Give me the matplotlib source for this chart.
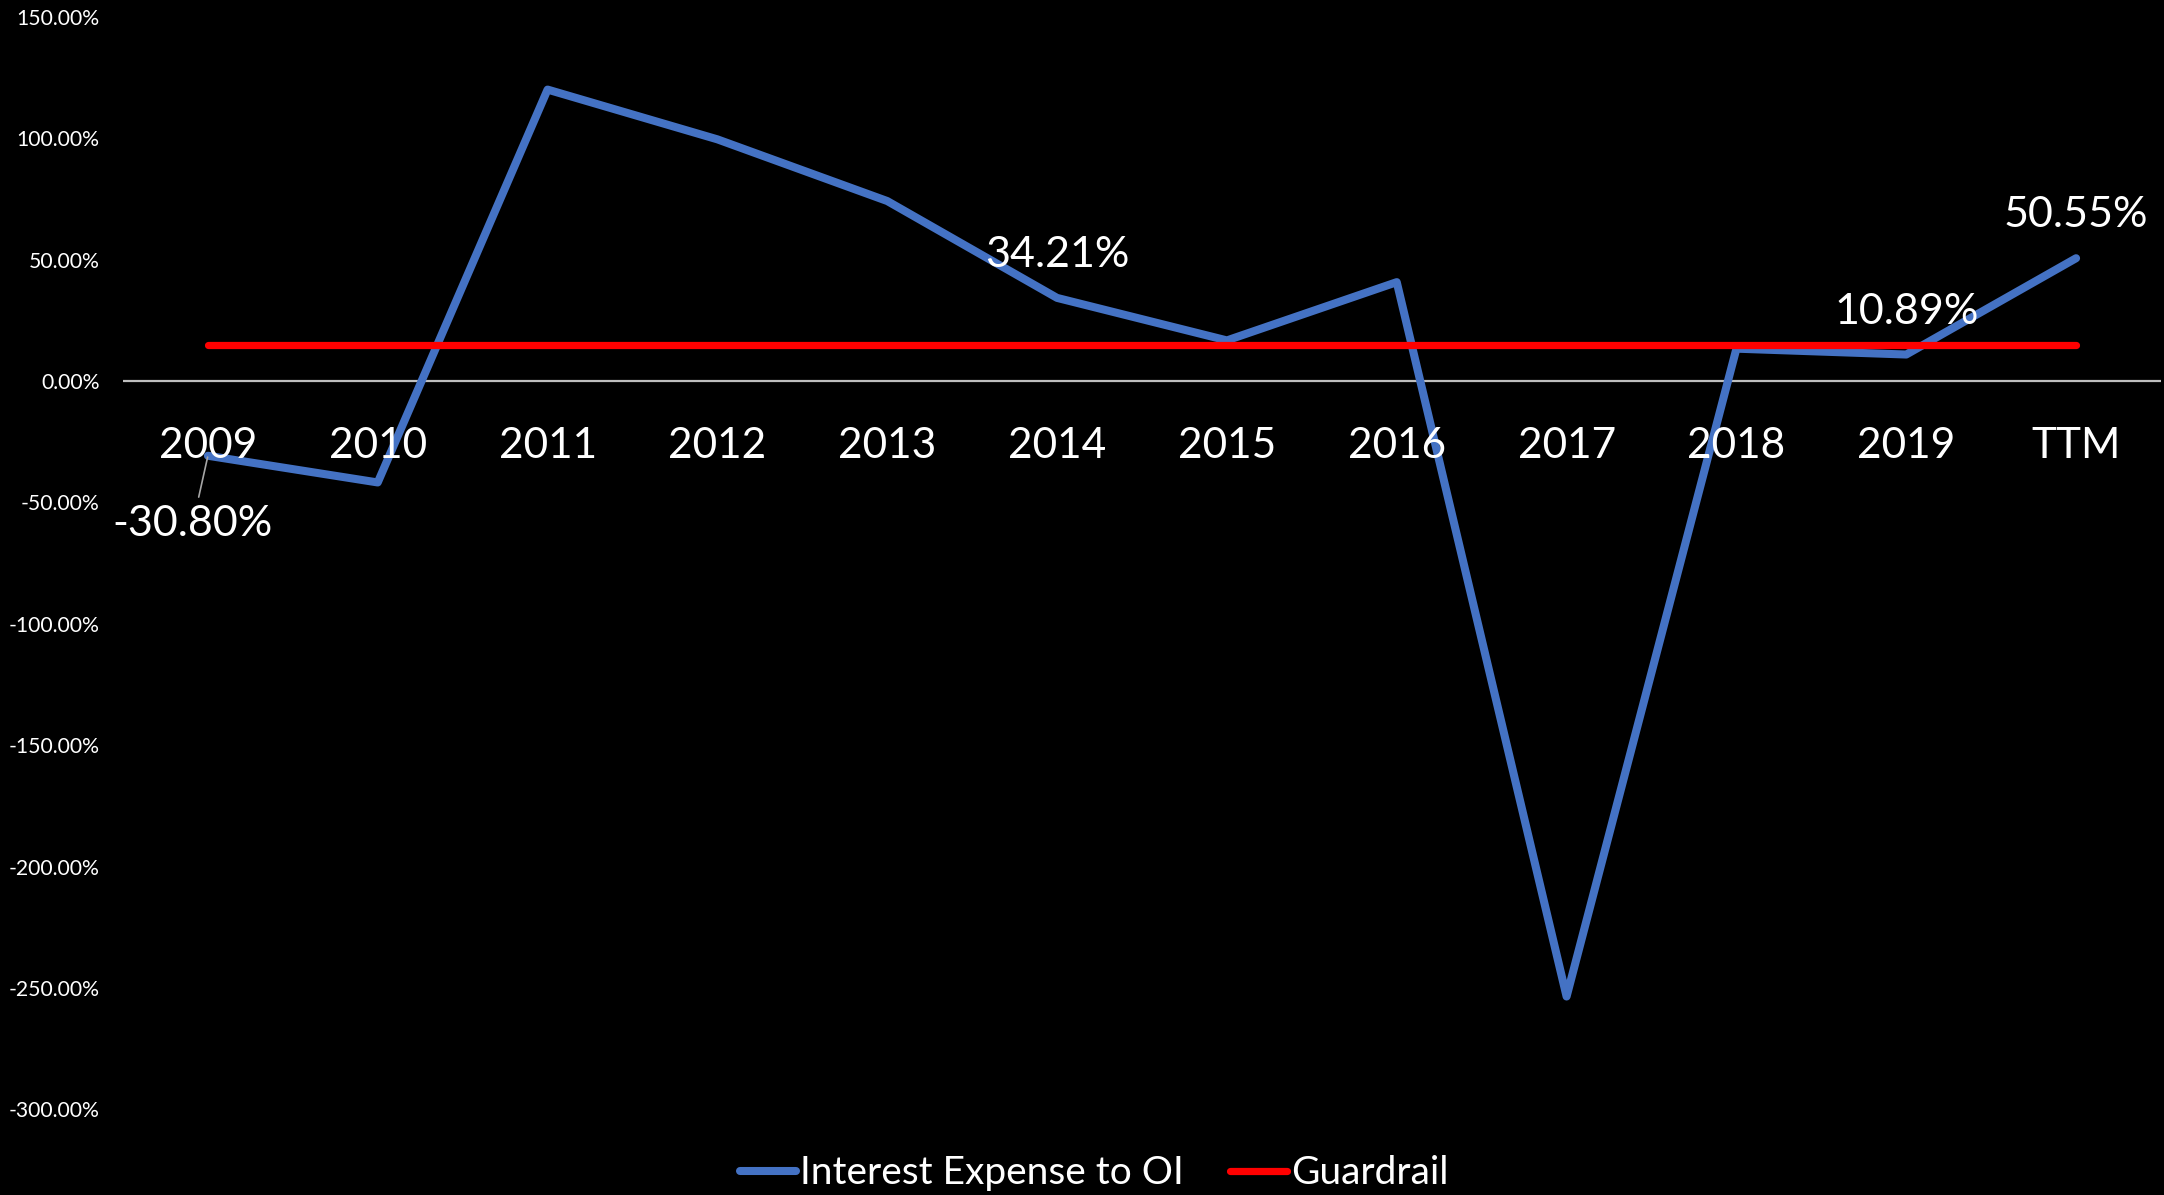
import numpy as np
import matplotlib
matplotlib.use("Agg")
from matplotlib import pyplot as plt

plt.rcParams['font.family'] = ['Lato', 'DejaVu Sans']

# interest expense as a share of operating income, in percent
periods = ['2009', '2010', '2011', '2012', '2013', '2014', '2015', '2016',
           '2017', '2018', '2019', 'TTM']
interest_to_oi = [-30.80, -41.8, 120.0, 99.5, 74.1, 34.21, 16.7, 40.7,
                  -253.5, 13.3, 10.89, 50.55]
guardrail = [15.0] * len(periods)
labelled = {0: 'below', 5: 'above', 10: 'above', 11: 'above'}
yticks = np.arange(-300, 151, 50)

blue = '#4472C4'
red = '#FF0000'

fig = plt.figure(figsize=(21.64, 11.95), dpi=100, facecolor='black')
ax = fig.add_axes([123/2164, 0.0716, (2161-123)/2164, 0.986-0.0716])
ax.set_facecolor('black')

x = np.arange(len(periods))
ax.plot(x, interest_to_oi, color=blue, lw=5.8, solid_capstyle='round',
        solid_joinstyle='round', label='Interest Expense to OI', zorder=3)
ax.plot(x, guardrail, color=red, lw=5.2, solid_capstyle='round',
        label='Guardrail', zorder=4)
ax.axhline(0, color='#bfbfbf', lw=1.6, zorder=1)

ax.set_xlim(-0.5, len(periods) - 0.5)
ax.set_ylim(-300, 150)
ax.set_yticks(yticks)
ax.set_yticklabels(['{:.2f}%'.format(v) for v in yticks], color='white',
                   fontsize=15.2)
ax.tick_params(axis='y', length=0, pad=17)
ax.set_xticks([])
for s in ax.spines.values():
    s.set_visible(False)

# category names sit just under the zero line
for i, p in enumerate(periods):
    ax.annotate(p, (i, 0), xytext=(0, -55.5), textcoords='offset points',
                ha='center', va='baseline', color='white', fontsize=30.5)

# value labels
for i, pos in labelled.items():
    v = interest_to_oi[i]
    txt = '{:.2f}%'.format(v)
    if pos == 'above':
        ax.annotate(txt, (i, v), xytext=(0, 22.3), textcoords='offset points',
                    ha='center', va='baseline', color='white', fontsize=31,
                    zorder=5)
    else:
        ax.annotate(txt, (i, v), xytext=(-11, -58), textcoords='offset points',
                    ha='center', va='baseline', color='white', fontsize=31,
                    zorder=5,
                    arrowprops=dict(arrowstyle='-', color='#a6a6a6', lw=1.2,
                                    shrinkA=4, shrinkB=1))

fig.legend(loc='center', bbox_to_anchor=(0.5055, 0.018), ncol=2,
           frameon=False, fontsize=28, labelcolor='white',
           handlelength=1.45, handletextpad=0.1, columnspacing=1.2)

fig.savefig('out.png', dpi=100, facecolor='black')
